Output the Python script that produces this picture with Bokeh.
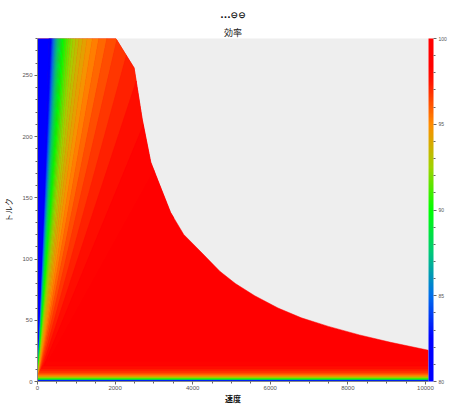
from bokeh.plotting import figure
from bokeh.models import (LinearColorMapper, ColorBar, FixedTicker, Title,
                          ColumnDataSource, Range1d)
from bokeh.embed import file_html
from bokeh.resources import INLINE
from bokeh.transform import linear_cmap

# ---------------- data ----------------
# efficiency contour levels [%]
eff_levels = [80.0, 80.5, 81.0, 81.5, 82.0, 82.5, 83.0, 83.5, 84.0, 84.5,
              85.0, 85.5, 86.0, 86.5, 87.0, 87.5, 88.0, 88.5, 89.0, 89.5,
              90.0, 90.5, 91.0, 91.5, 92.0, 92.5, 93.0, 93.5, 94.0, 94.5,
              95.0, 95.5, 96.0, 96.5, 97.0, 97.5, 98.0, 98.5, 99.0]
# speed where each contour meets the top torque (280), contours run from the origin
contour_speed_at_top = [298, 308, 318, 328, 339, 351, 364, 377, 391, 406,
                        422, 439, 458, 477, 499, 522, 546, 573, 603, 635,
                        671, 710, 753, 802, 857, 919, 990, 1072, 1167, 1280,
                        1416, 1581, 1788, 2054, 2409, 2906, 3651, 4892, 7376]
# torque of each contour in the low-torque band near the speed axis
contour_torque_low = [1.10, 1.14, 1.18, 1.22, 1.26, 1.30, 1.35, 1.40, 1.45, 1.51,
                      1.57, 1.63, 1.70, 1.77, 1.85, 1.94, 2.03, 2.13, 2.24, 2.36,
                      2.49, 2.63, 2.79, 2.97, 3.17, 3.40, 3.67, 3.97, 4.31, 4.72,
                      5.20, 5.80, 6.50, 7.40, 8.60, 10.2, 12.8, 17.0, 25.0]
# maximum torque curve
max_speed = [2020, 2490, 2700, 2920, 3130, 3430, 3770, 4300, 4700, 5100,
             5600, 6200, 6800, 7500, 8300, 9100, 10080]
max_torque = [280, 256, 214, 179, 162, 138, 120, 103, 90, 80,
              70, 60, 52, 45, 38, 32, 25.5]
x_ticks = [0, 2000, 4000, 6000, 8000, 10000]
y_ticks = [0, 50, 100, 150, 200, 250]
cbar_ticks = [80, 85, 90, 95, 100]
cbar_minor = [81, 82, 83, 84, 86, 87, 88, 89, 91, 92, 93, 94, 96, 97, 98, 99]

X_MAX = 10080
T_TOP = 280
EFF_LOW, EFF_HIGH = 80, 100

# ---------------- palette (style) ----------------
stops = [(0.0, (0, 0, 255)), (0.125, (0, 0, 255)), (0.25, (0, 110, 235)),
         (0.375, (0, 200, 120)), (0.5, (0, 255, 0)), (0.625, (160, 210, 0)),
         (0.75, (255, 140, 0)), (0.875, (255, 20, 0)), (0.92, (255, 0, 0)),
         (1.0, (255, 0, 0))]


def build_palette(n=256):
    pal = []
    for i in range(n):
        f = i / (n - 1)
        for (f0, c0), (f1, c1) in zip(stops[:-1], stops[1:]):
            if f0 <= f <= f1:
                t = 0 if f1 == f0 else (f - f0) / (f1 - f0)
                rgb = [round(a + (b - a) * t) for a, b in zip(c0, c1)]
                pal.append("#%02x%02x%02x" % tuple(rgb))
                break
    return pal


palette = build_palette()
mapper = LinearColorMapper(palette=palette, low=EFF_LOW, high=EFF_HIGH)

# ---------------- operating region (under the max torque curve) ----------------
boundary = [(0, T_TOP)] + list(zip(max_speed, max_torque)) + [(X_MAX, 0)]


def ray_exit(dx, dy):
    """Where a ray from the origin leaves the operating region."""
    best = None
    for i, ((x1, y1), (x2, y2)) in enumerate(zip(boundary[:-1], boundary[1:])):
        ex, ey = x2 - x1, y2 - y1
        den = dx * ey - dy * ex
        if abs(den) < 1e-12:
            continue
        t = (x1 * ey - y1 * ex) / den
        u = (x1 * dy - y1 * dx) / den
        if t > 0 and -1e-9 <= u <= 1 + 1e-9:
            if best is None or t < best[0]:
                best = (t, i)
    t, i = best
    return (t * dx, t * dy), i


def wedge(top_a, top_b):
    """Region between two contour rays, clipped to the operating region."""
    pa, ia = ray_exit(top_a, T_TOP)
    pb, ib = ray_exit(top_b, T_TOP)
    pts = [(0, 0), pa] + boundary[ia + 1: ib + 1] + [pb]
    return [q[0] for q in pts], [q[1] for q in pts]


xs, ys, vals = [], [], []
# whole operating region at the highest level first (underneath everything)
xs.append([0] + [q[0] for q in boundary])
ys.append([0] + [q[1] for q in boundary])
vals.append(EFF_HIGH)
wx, wy = wedge(0, contour_speed_at_top[0])
xs.append(wx); ys.append(wy); vals.append(EFF_LOW)
for j in range(len(eff_levels) - 1):
    wx, wy = wedge(contour_speed_at_top[j], contour_speed_at_top[j + 1])
    xs.append(wx); ys.append(wy)
    vals.append((eff_levels[j] + eff_levels[j + 1]) / 2)
# low torque band
xs.append([0, X_MAX, X_MAX, 0])
ys.append([0, 0, contour_torque_low[0], contour_torque_low[0]])
vals.append(EFF_LOW)
for j in range(len(eff_levels) - 1):
    t0, t1 = contour_torque_low[j], contour_torque_low[j + 1]
    s = contour_speed_at_top[j]
    xs.append([s * t0 / T_TOP, X_MAX, X_MAX, s * t1 / T_TOP])
    ys.append([t0, t0, t1, t1])
    vals.append((eff_levels[j] + eff_levels[j + 1]) / 2)

src = ColumnDataSource(dict(xs=xs, ys=ys, eff=vals))

p = figure(frame_width=391, frame_height=343, output_backend="svg",
           toolbar_location=None, title=" ",
           x_range=Range1d(0, X_MAX), y_range=Range1d(0, T_TOP),
           min_border_left=0, min_border_right=0, min_border_top=0,
           min_border_bottom=0)
p.background_fill_color = "#eeeeee"
p.border_fill_color = "white"
p.outline_line_color = None
p.grid.visible = False

cmap = linear_cmap("eff", palette, EFF_LOW, EFF_HIGH)
p.patches("xs", "ys", source=src, fill_color=cmap, line_color=cmap,
          line_width=0.5)

# titles: p.title is the outermost one and only used as a small spacer
p.title.text_font_size = "2px"
p.title.standoff = 0
sub_title = Title(text="効率", align="center", text_font_size="9px",
                  text_font_style="normal", text_color="#222222",
                  text_font="Noto Sans CJK JP", standoff=0)
p.add_layout(sub_title, "above")
main_title = Title(text="...⊖⊖", align="center", text_font_size="9px",
                   text_font_style="bold", text_color="#111111",
                   text_font="DejaVu Sans", standoff=7)
p.add_layout(main_title, "above")

# axes
for ax in (p.xaxis, p.yaxis):
    ax.major_label_text_font_size = "6px"
    ax.major_label_text_color = "#555555"
    ax.major_label_text_font = "Liberation Sans"
    ax.axis_line_color = "#888888"
    ax.major_tick_line_color = "#666666"
    ax.minor_tick_line_color = "#666666"
    ax.major_tick_in = 0
    ax.major_tick_out = 3
    ax.minor_tick_in = 0
    ax.minor_tick_out = 2
    ax.axis_label_text_font = "Noto Sans CJK JP"
    ax.axis_label_text_font_size = "8px"
    ax.axis_label_text_font_style = "normal"
    ax.axis_label_text_color = "#111111"
    ax.major_label_standoff = 2
    ax.axis_label_standoff = 1

p.yaxis.axis_label_standoff = 5
p.xaxis.major_label_standoff = 1
p.xaxis.axis_label_standoff = 0
p.xaxis.ticker = FixedTicker(ticks=x_ticks,
                             minor_ticks=[v for v in range(0, 10001, 500) if v not in x_ticks])
p.yaxis.ticker = FixedTicker(ticks=y_ticks,
                             minor_ticks=[v for v in range(0, 281, 10) if v not in y_ticks])
p.xaxis.axis_label = "速度"
p.yaxis.axis_label = "トルク"
p.xaxis.axis_label_text_font_style = "bold"

cbar = ColorBar(color_mapper=mapper, width=5,
                ticker=FixedTicker(ticks=cbar_ticks, minor_ticks=cbar_minor),
                padding=0, margin=2, label_standoff=2,
                major_label_text_font_size="5px",
                major_label_text_color="#555555",
                major_tick_in=0, major_tick_out=3,
                minor_tick_in=0, minor_tick_out=2,
                major_tick_line_color="#666666",
                minor_tick_line_color="#666666",
                bar_line_color=None, background_fill_color="white")
p.add_layout(cbar, "right")

open("out.html", "w").write(file_html(p, INLINE))
